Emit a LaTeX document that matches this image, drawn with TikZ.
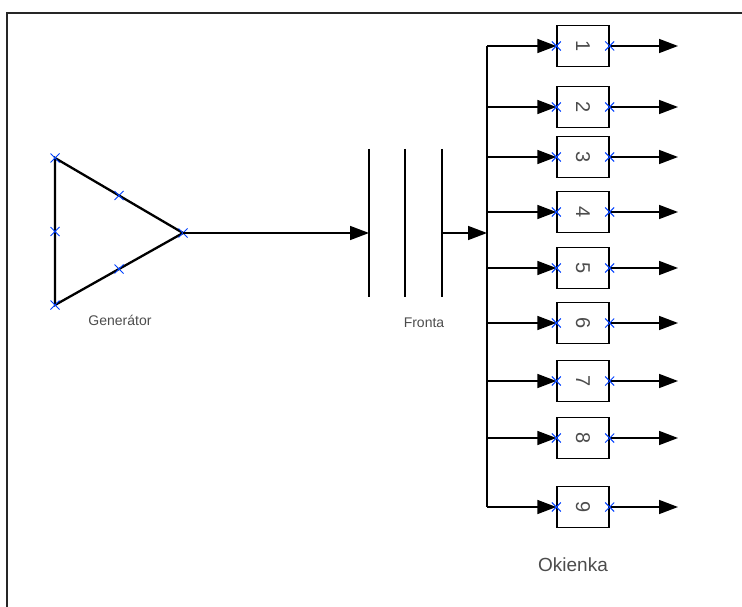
\documentclass[tikz,border=0pt]{standalone}
\usepackage{fontspec}
\setmainfont{Liberation Sans}
\usetikzlibrary{arrows.meta,shapes.misc,calc}
\begin{document}
\begin{tikzpicture}[x=1pt,y=-1pt,
 wire/.style={line width=1.6pt},
 arr/.style={wire,-{Triangle[length=19pt,width=14pt]}},
 xmark/.style={cross out,draw=blue!75!cyan,line width=1pt,minimum size=8pt,inner sep=0pt},
 win/.style={draw,line width=1.4pt,minimum width=52pt,minimum height=41pt,inner sep=0pt,text=black!70,font=\fontsize{20}{20}\selectfont},
 lbl/.style={text=black!70,font=\fontsize{14}{16}\selectfont},
 frontline/.style={minimum height=148pt,minimum width=0pt,inner sep=0pt}]
\useasboundingbox (0,0) rectangle (742,607);
\draw[line width=1.5pt,black!85] (7,607) -- (7,13) -- (742,13);
% generator
\coordinate (gA) at (55,158);
\coordinate (gB) at (55,305);
\coordinate (gC) at (183,233);
\draw[line width=2.3pt] (gA) -- (gC) -- (gB) -- cycle;
\node[xmark] (xA) at (gA) {};
\node[xmark] (xB) at (gB) {};
\node[xmark] (xC) at (gC) {};
\node[xmark] (xAB) at ($(gA)!0.5!(gB)$) {};
\node[xmark] (xAC) at ($(gA)!0.5!(gC)$) {};
\node[xmark] (xBC) at ($(gB)!0.5!(gC)$) {};
\node[lbl] (gen) at (120,320) {Generátor};
% fronta
\node[frontline] (f1) at (369,223) {};
\node[frontline] (f2) at (405,223) {};
\node[frontline] (f3) at (442,223) {};
\draw[wire] (f1.north) -- (f1.south);
\draw[wire] (f2.north) -- (f2.south);
\draw[wire] (f3.north) -- (f3.south);
\node[lbl] (fr) at (424,323) {Fronta};
\draw[arr] (gC) -- (f1 |- gC);
% bus
\coordinate (bt) at (487,46);
\coordinate (bb) at (487,507);
\draw[arr] (f3 |- gC) -- (bt |- gC);
% windows
\foreach \n/\y in {1/46,2/107,3/157,4/212,5/268,6/323,7/381,8/438,9/507}{
  \node[win] (b\n) at (583,\y) {\rotatebox{-90}{\n}};
  \coordinate (o\n) at (678,\y);
  \draw[arr] (bt |- b\n.west) -- (b\n.west);
  \draw[arr] (b\n.east) -- (o\n);
  \node[xmark] (xl\n) at (b\n.west) {};
  \node[xmark] (xr\n) at (b\n.east) {};
}
\draw[wire] (bt) -- (bb);
\node[text=black!70,font=\fontsize{19}{20}\selectfont] (ok) at (573,565) {Okienka};
\end{tikzpicture}
\end{document}
